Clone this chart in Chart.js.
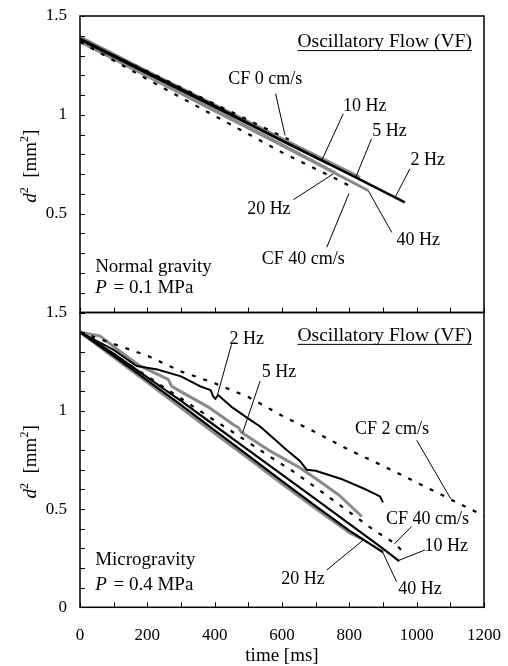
<!DOCTYPE html>
<html><head><meta charset="utf-8">
<script src="https://cdn.jsdelivr.net/npm/chart.js@4/dist/chart.umd.min.js"></script>
<style>html,body{margin:0;padding:0;background:#fff}#wrap{position:relative;width:508px;height:666px}canvas{position:absolute;left:0;top:0}</style>
</head><body><div id="wrap"><canvas id="cTop" width="508" height="666"></canvas><canvas id="cBot" width="508" height="666"></canvas></div>
<script>
// ---------- data (time [ms], d^2 [mm^2]) ----------
// Top panel: Normal gravity, P = 0.1 MPa
const topT2Hz = [0, 200, 400, 600, 800, 965];
const topD2Hz = [1.38, 1.21, 1.04, 0.87, 0.70, 0.557];
const topT10Hz = [0, 200, 400, 600, 740];
const topD10Hz = [1.385, 1.215, 1.045, 0.87, 0.75];
const topT5Hz = [0, 200, 400, 600, 832];
const topD5Hz = [1.395, 1.22, 1.05, 0.88, 0.684];
const topT20Hz = [0, 200, 400, 600, 760];
const topD20Hz = [1.375, 1.20, 1.025, 0.85, 0.705];
const topT40Hz = [0, 200, 400, 600, 856];
const topD40Hz = [1.37, 1.195, 1.02, 0.845, 0.617];
const topTCF0 = [0, 200, 400, 620];
const topDCF0 = [1.38, 1.22, 1.055, 0.875];
const topTCF40 = [0, 200, 400, 600, 810];
const topDCF40 = [1.37, 1.18, 0.995, 0.81, 0.634];

// Bottom panel: Microgravity, P = 0.4 MPa
const botT2Hz = [0, 100, 168, 230, 300, 356, 388, 395, 402, 410, 450, 500, 535, 614, 653, 673, 700, 781, 851, 891, 900];
const botD2Hz = [1.40, 1.31, 1.228, 1.21, 1.175, 1.125, 1.105, 1.075, 1.06, 1.08, 1.02, 0.96, 0.92, 0.80, 0.745, 0.70, 0.695, 0.65, 0.598, 0.564, 0.534];
const botT5Hz = [0, 30, 60, 120, 178, 262, 272, 297, 380, 455, 470, 480, 560, 653, 700, 770, 837];
const botD5Hz = [1.40, 1.39, 1.38, 1.30, 1.228, 1.16, 1.125, 1.10, 1.02, 0.93, 0.915, 0.89, 0.80, 0.71, 0.655, 0.57, 0.462];
const botT10Hz = [0, 100, 200, 300, 400, 500, 600, 700, 800, 900, 948];
const botD10Hz = [1.40, 1.29, 1.17, 1.05, 0.925, 0.80, 0.675, 0.55, 0.425, 0.298, 0.235];
const botT40Hz = [0, 100, 200, 300, 400, 500, 600, 700, 800, 900];
const botD40Hz = [1.40, 1.28, 1.155, 1.03, 0.90, 0.772, 0.642, 0.515, 0.39, 0.28];
const botT20Hz = [0, 100, 200, 300, 400, 500, 600, 700, 800, 840];
const botD20Hz = [1.40, 1.272, 1.145, 1.015, 0.885, 0.758, 0.628, 0.502, 0.38, 0.345];
const botTCF2 = [0, 100, 200, 300, 400, 500, 600, 700, 800, 900, 1000, 1100, 1200];
const botDCF2 = [1.40, 1.34, 1.28, 1.20, 1.14, 1.07, 0.975, 0.89, 0.80, 0.72, 0.635, 0.55, 0.465];
const botTCF40 = [0, 200, 400, 450, 574, 639, 700, 800, 871, 935, 955];
const botDCF40 = [1.40, 1.175, 0.95, 0.896, 0.756, 0.685, 0.61, 0.485, 0.395, 0.325, 0.29];

// axis tick labels
const xTickLabels = ['0', '200', '400', '600', '800', '1000', '1200'];
const yTickLabels = ['0', '0.5', '1', '1.5'];

// annotation texts
const headerText = 'Oscillatory Flow (VF)';
const topCondition = ['Normal gravity', '0.1'];
const botCondition = ['Microgravity', '0.4'];

// ---------- styles / layout ----------
const SERIF = '"Liberation Serif", "Times New Roman", Times, serif';
const BLACK = '#000000', GRAY = '#8a8a8a';

function pts(xs, ys) { return xs.map((x, i) => ({ x: x, y: ys[i] })); }
function ds(label, xs, ys, kind) {
  const base = { label: label, data: pts(xs, ys), pointRadius: 0, showLine: true, tension: 0, fill: false, borderCapStyle: 'butt', borderJoinStyle: 'round' };
  if (kind === 'black') return Object.assign(base, { borderColor: BLACK, borderWidth: 2.5 });
  if (kind === 'gray') return Object.assign(base, { borderColor: GRAY, borderWidth: 3 });
  return Object.assign(base, { borderColor: BLACK, borderWidth: 2.2, borderDash: [4, 8] });
}

const topDatasets = [
  ds('CF 0 cm/s', topTCF0, topDCF0, 'dot'),
  ds('CF 40 cm/s', topTCF40, topDCF40, 'dot'),
  ds('2 Hz', topT2Hz, topD2Hz, 'black'),
  ds('10 Hz', topT10Hz, topD10Hz, 'black'),
  ds('5 Hz', topT5Hz, topD5Hz, 'gray'),
  ds('20 Hz', topT20Hz, topD20Hz, 'gray'),
  ds('40 Hz', topT40Hz, topD40Hz, 'gray')
];
const botDatasets = [
  ds('CF 2 cm/s', botTCF2, botDCF2, 'dot'),
  ds('CF 40 cm/s', botTCF40, botDCF40, 'dot'),
  ds('2 Hz', botT2Hz, botD2Hz, 'black'),
  ds('10 Hz', botT10Hz, botD10Hz, 'black'),
  ds('40 Hz', botT40Hz, botD40Hz, 'black'),
  ds('5 Hz', botT5Hz, botD5Hz, 'gray'),
  ds('20 Hz', botT20Hz, botD20Hz, 'gray')
];
botDatasets[2].borderWidth = 2;
botDatasets[3].borderWidth = 2.2;
botDatasets[4].borderWidth = 2.2;

// annotation placement (data coordinates)
const topNotes = {
  labels: [['CF 0 cm/s', 550, 1.18], ['10 Hz', 846, 1.043], ['5 Hz', 919, 0.918], ['2 Hz', 1033, 0.769],
           ['20 Hz', 561, 0.524], ['40 Hz', 1005, 0.366], ['CF 40 cm/s', 663, 0.27]],
  leaders: [[581, 1.107, 609, 0.896], [782, 1.006, 718, 0.769], [866, 0.879, 819, 0.684], [733, 0.33, 799, 0.602],
            [980, 0.727, 936, 0.583], [634, 0.571, 752, 0.701], [926, 0.405, 856, 0.617]],
  header: [1164, 1.368], cond: topCondition, condPos: [45, 0.232, 0.123]
};
const botNotes = {
  labels: [['2 Hz', 495, 1.364], ['5 Hz', 591, 1.194], ['CF 2 cm/s', 927, 0.905], ['CF 40 cm/s', 1032, 0.45],
           ['10 Hz', 1088, 0.309], ['20 Hz', 662, 0.143], ['40 Hz', 1010, 0.092]],
  leaders: [[450, 1.338, 406, 1.066], [535, 1.151, 483, 0.888], [1000, 0.85, 1101, 0.553], [985, 0.411, 934, 0.323],
            [1025, 0.292, 946, 0.238], [733, 0.19, 842, 0.343], [940, 0.131, 896, 0.292]],
  header: [1164, 1.381], cond: botCondition, condPos: [45, 0.241, 0.114]
};

function decoPlugin(notes, isBottom) {
  return {
    id: 'deco',
    afterDraw(chart) {
      const ctx = chart.ctx, a = chart.chartArea, xs = chart.scales.x, ys = chart.scales.y;
      const X = v => xs.getPixelForValue(v), Y = v => ys.getPixelForValue(v);
      ctx.save();
      // frame
      ctx.strokeStyle = BLACK; ctx.lineWidth = 1.5; ctx.setLineDash([]);
      ctx.strokeRect(a.left, a.top, a.right - a.left, a.bottom - a.top);
      // inward tick marks
      ctx.lineWidth = 1; ctx.beginPath();
      ys.ticks.forEach(t => { const p = Math.round(Y(t.value)) + 0.5; ctx.moveTo(a.left, p); ctx.lineTo(a.left + 5, p); });
      xs.ticks.forEach(t => { const p = Math.round(X(t.value)) + 0.5; ctx.moveTo(p, a.bottom); ctx.lineTo(p, a.bottom - 5); });
      ctx.stroke();
      // leader lines
      ctx.lineWidth = 1; ctx.beginPath();
      notes.leaders.forEach(l => { ctx.moveTo(X(l[0]), Y(l[1])); ctx.lineTo(X(l[2]), Y(l[3])); });
      ctx.stroke();
      // pointer labels
      ctx.fillStyle = BLACK; ctx.textBaseline = 'middle'; ctx.textAlign = 'center';
      ctx.font = '18px ' + SERIF;
      notes.labels.forEach(l => ctx.fillText(l[0], X(l[1]), Y(l[2])));
      // header with underline
      ctx.font = '19.5px ' + SERIF; ctx.textAlign = 'right';
      const hx = X(notes.header[0]), hy = Y(notes.header[1]);
      ctx.fillText(headerText, hx, hy);
      const hw = ctx.measureText(headerText).width;
      ctx.beginPath(); ctx.moveTo(hx - hw, hy + 8.5); ctx.lineTo(hx, hy + 8.5); ctx.stroke();
      // condition text
      ctx.font = '19px ' + SERIF;
      ctx.textAlign = 'left';
      const cx = X(notes.condPos[0]);
      ctx.fillText(notes.cond[0], cx, Y(notes.condPos[1]));
      ctx.font = 'italic 19px ' + SERIF;
      const py = Y(notes.condPos[2]);
      ctx.fillText('P', cx, py);
      const pw = ctx.measureText('P').width;
      ctx.font = '19px ' + SERIF;
      ctx.fillText(' = ' + notes.cond[1] + ' MPa', cx + pw + 2, py);
      // y axis title  d^2 [mm^2]
      const parts = [['d', 'italic 19px ', 0], ['2', '12px ', 1], ['  [mm', '19px ', 0], ['2', '12px ', 1], [']', '19px ', 0]];
      let tw = 0;
      parts.forEach(p => { ctx.font = p[1] + SERIF; p.push(ctx.measureText(p[0]).width); tw += p[3]; });
      ctx.translate(29, (a.top + a.bottom) / 2 + 2);
      ctx.rotate(-Math.PI / 2);
      ctx.textBaseline = 'alphabetic';
      let px = -tw / 2;
      parts.forEach(p => { ctx.font = p[1] + SERIF; ctx.fillText(p[0], px, p[2] ? -1 : 6.5); px += p[3]; });
      ctx.setTransform(1, 0, 0, 1, 0, 0);
      if (isBottom) {
        ctx.font = '19px ' + SERIF; ctx.textAlign = 'center'; ctx.textBaseline = 'middle';
        ctx.fillText('time [ms]', (a.left + a.right) / 2, 656);
      }
      ctx.restore();
    }
  };
}

function yLabel(v, showZero) {
  const k = Math.round(v * 10);
  if (k % 5 !== 0) return '';
  if (k === 0 && !showZero) return '';
  return yTickLabels[k / 5];
}

function noPad(s) { s.paddingTop = 0; s.paddingBottom = 0; s.paddingLeft = 0; s.paddingRight = 0; }

function makeChart(id, datasets, notes, isBottom) {
  return new Chart(document.getElementById(id), {
    type: 'scatter',
    data: { datasets: datasets },
    options: {
      responsive: false, animation: false, devicePixelRatio: 1,
      layout: { padding: isBottom ? { left: 0, right: 24, top: 312.5, bottom: 0 } : { left: 0, right: 24, top: 16, bottom: 353.5 } },
      plugins: { legend: { display: false }, tooltip: { enabled: false } },
      scales: {
        x: {
          type: 'linear', min: 0, max: 1200,
          grid: { display: false, drawTicks: false }, border: { display: false },
          ticks: {
            stepSize: 100, autoSkip: false, maxRotation: 0, padding: 18, color: BLACK,
            font: { family: SERIF, size: 17 },
            callback: v => (isBottom && Math.round(v) % 200 === 0) ? xTickLabels[Math.round(v) / 200] : ''
          },
          afterFit: s => { s.height = isBottom ? 58.7 : 0; noPad(s); }
        },
        y: {
          type: 'linear', min: 0, max: 1.5,
          grid: { display: false, drawTicks: false }, border: { display: false },
          ticks: {
            stepSize: 0.1, autoSkip: false, padding: 13, color: BLACK,
            font: { family: SERIF, size: 17 },
            callback: v => yLabel(v, isBottom)
          },
          afterFit: s => { s.width = 80; noPad(s); }
        }
      }
    },
    plugins: [decoPlugin(notes, isBottom)]
  });
}

makeChart('cTop', topDatasets, topNotes, false);
makeChart('cBot', botDatasets, botNotes, true);
</script>
</body></html>
